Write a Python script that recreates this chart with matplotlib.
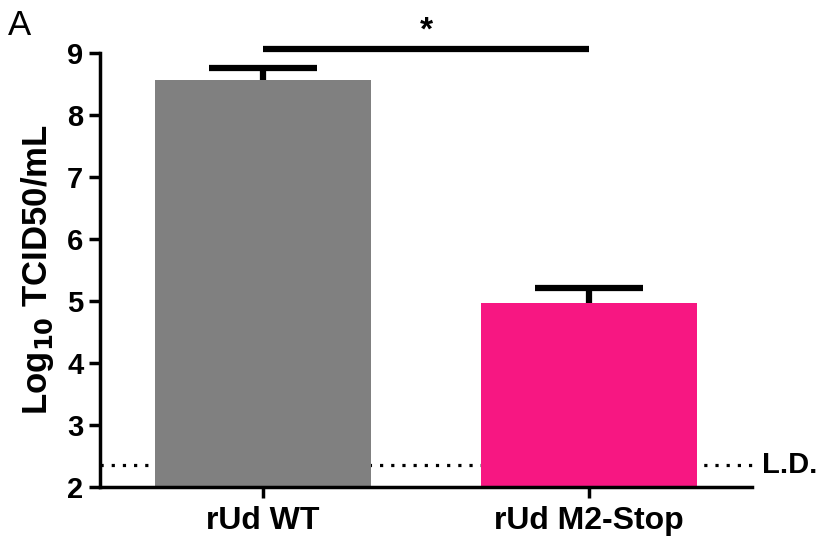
import matplotlib
matplotlib.use('Agg')
import matplotlib.pyplot as plt

# Data
groups      = ['rUd WT', 'rUd M2-Stop']
means       = [8.57, 4.97]
sem         = [0.19, 0.24]
bar_colors  = ['#808080', '#F71782']
lod         = 2.36

plt.rcParams['font.family'] = ['Liberation Sans', 'DejaVu Sans']

fig = plt.figure(figsize=(8.2, 5.46), dpi=100)
ax = fig.add_axes([0.122, 0.108, 0.795, 0.795])

xpos = list(range(len(groups)))

# detection limit, behind bars
ax.plot([-0.5, 1.5], [lod, lod], color='black', lw=2.3,
        linestyle=(0, (1, 2.5)), zorder=1, clip_on=False)
ax.text(1.53, lod, 'L.D.', fontsize=21, fontweight='bold',
        va='center', ha='left')

# error bars sit behind the bars so only the upper half shows
ax.errorbar(xpos, means, yerr=sem, fmt='none',
            ecolor='black', elinewidth=4.5, capsize=39, capthick=4.5,
            zorder=1)
ax.bar(xpos, [m - 2 for m in means], bottom=2, width=0.66,
       color=bar_colors, zorder=2)

# significance bar
ax.plot([0, 1], [9.06, 9.06], color='black', lw=4.5, clip_on=False,
        solid_capstyle='butt')
ax.text(0.5, 9.1, '*', fontsize=24, fontweight='bold', ha='center',
        va='bottom')

ax.set_xlim(-0.5, 1.5)
ax.set_ylim(2, 9)
ax.set_yticks(range(2, 10))
ax.set_xticks(xpos)
ax.set_xticklabels(groups)

for s in ['top', 'right']:
    ax.spines[s].set_visible(False)
for s in ['left', 'bottom']:
    ax.spines[s].set_linewidth(2.5)

ax.tick_params(axis='both', width=2.5, length=8)
ax.tick_params(axis='y', labelsize=21, pad=4)
ax.tick_params(axis='x', labelsize=23, pad=6)
for lab in ax.get_xticklabels() + ax.get_yticklabels():
    lab.set_fontweight('bold')

ax.set_ylabel(r'Log$_{\mathbf{10}}$ TCID50/mL', fontsize=25,
              fontweight='bold', labelpad=8)

fig.text(0.01, 0.935, 'A', fontsize=25)

fig.savefig('out.png', dpi=100)
